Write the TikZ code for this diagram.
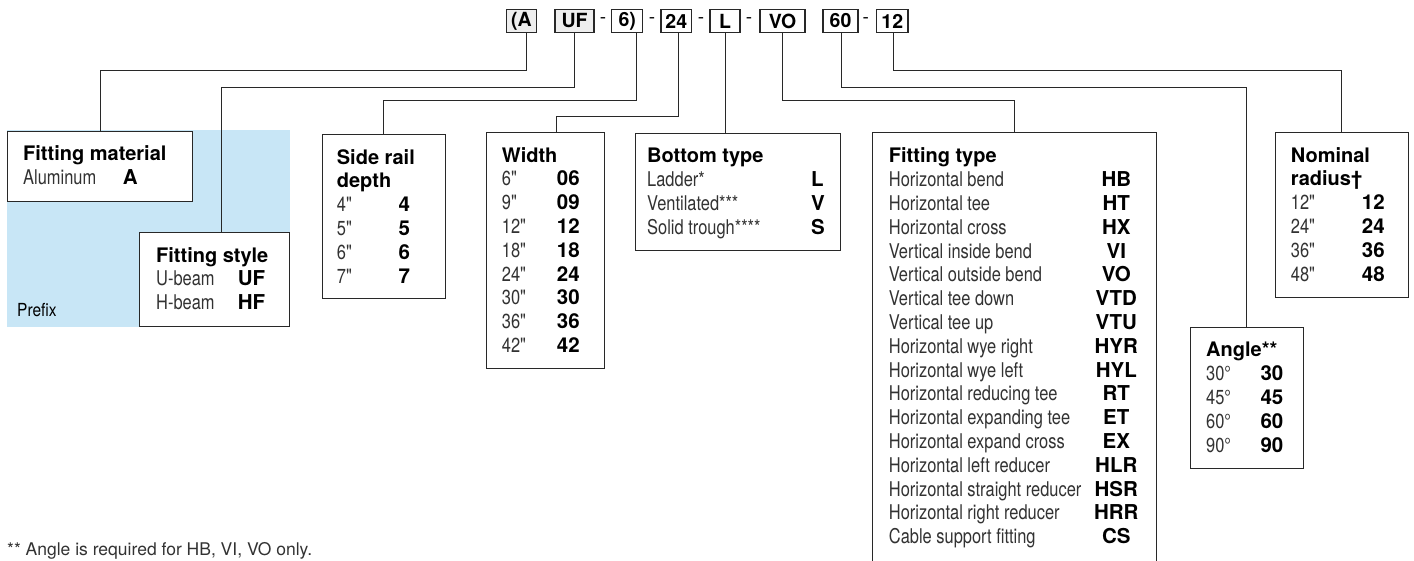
\documentclass[tikz,border=0pt]{standalone}
\usepackage{fontspec}
\usepackage{array}
\setmainfont{TeX Gyre Heros}
\newfontfamily\condfont[FakeStretch=0.81]{TeX Gyre Heros}
\newfontfamily\prefixfont[FakeStretch=0.86]{TeX Gyre Heros}
\definecolor{linegray}{RGB}{40,40,40}
\definecolor{itemgray}{RGB}{50,50,50}
\definecolor{prefixblue}{RGB}{200,230,246}
\definecolor{shadegray}{RGB}{238,238,238}
\newcommand{\keysize}{\fontsize{20.3}{23.8}\selectfont}
\newcommand{\codesize}{\fontsize{20.5}{23.8}\selectfont}
\newcolumntype{I}[1]{>{\condfont\color{itemgray}}w{l}{#1}}
\newcolumntype{K}{>{\codesize\bfseries}l}
\newcolumntype{C}[1]{>{\codesize\bfseries}w{c}{#1}}
\newcommand{\keyhead}[1]{\multicolumn{2}{@{}l@{}}{\fontsize{20}{23.8}\selectfont\bfseries #1}}

\tikzset{
  link/.style={draw=linegray, line width=1.1pt},
  codebox/.style={draw=linegray, line width=1.1pt, minimum height=23.5pt, inner sep=0pt,
    font=\fontsize{19.5}{21}\selectfont\bfseries},
  dashmark/.style={inner sep=0pt, font=\fontsize{19}{21}\selectfont},
  keybox/.style={draw=linegray, line width=1.1pt, fill=white, anchor=north west, inner sep=0pt},
  keytext/.style={anchor=north west, inner sep=0pt, font=\keysize},
}

\begin{document}
\begin{tikzpicture}[x=1pt, y=-1pt]
\useasboundingbox (0,0) rectangle (1414,561);

% prefix area
\fill[prefixblue] (7,130) rectangle (290,327);
\node[anchor=base west, inner sep=0pt, font=\prefixfont\fontsize{18}{20}\selectfont] (prefixlabel) at (17,316.7) {Prefix};

% catalog number
\node[codebox, fill=shadegray, minimum width=30.7pt] (codeA) at (521.4,21) {(A};
\node[codebox, fill=shadegray, minimum width=39pt] (codeUF) at (574.5,21) {UF};
\node[dashmark] (d1) at (603,21) {-};
\node[codebox, minimum width=31pt] (code6) at (627.2,21) {6)};
\node[dashmark] (d2) at (652,21) {-};
\node[codebox, minimum width=30.7pt] (code24) at (676.3,21) {24};
\node[dashmark] (d3) at (701,21) {-};
\node[codebox, minimum width=30pt] (codeL) at (725,21) {L};
\node[dashmark] (d4) at (749,21) {-};
\node[codebox, minimum width=45pt] (codeVO) at (782.5,21) {VO};
\node[codebox, minimum width=35pt] (code60) at (840.5,21) {60};
\node[dashmark] (d5) at (865.7,21) {-};
\node[codebox, minimum width=31.3pt] (code12) at (892.3,21) {12};

% key boxes
\node[keybox, minimum width=185pt, minimum height=70pt] (matbox) at (7,130.7) {};
\node[keytext] (mattext) at ([shift={(16,13.3)}]matbox.north west) {%
  \begin{tabular}{@{}I{99.7pt}@{}K@{}}
  \keyhead{Fitting material}\\
  Aluminum & A
  \end{tabular}};

\node[keybox, minimum width=149.7pt, minimum height=93.7pt] (stylebox) at (139,232) {};
\node[keytext] (styletext) at ([shift={(17,13.3)}]stylebox.north west) {%
  \begin{tabular}{@{}I{81.7pt}@{}K@{}}
  \keyhead{Fitting style}\\
  U-beam & UF\\
  H-beam & HF
  \end{tabular}};

\node[keybox, minimum width=123.3pt, minimum height=163.7pt] (railbox) at (321.7,134) {};
\node[keytext] (railtext) at ([shift={(15,13.3)}]railbox.north west) {%
  \begin{tabular}{@{}I{61.6pt}@{}K@{}}
  \keyhead{Side rail}\\
  \keyhead{depth}\\
  4" & 4\\
  5" & 5\\
  6" & 6\\
  7" & 7
  \end{tabular}};

\node[keybox, minimum width=118.3pt, minimum height=236.3pt] (widthbox) at (485.7,132) {};
\node[keytext] (widthtext) at ([shift={(16,13.3)}]widthbox.north west) {%
  \begin{tabular}{@{}I{55pt}@{}K@{}}
  \keyhead{Width}\\
  6" & 06\\
  9" & 09\\
  12" & 12\\
  18" & 18\\
  24" & 24\\
  30" & 30\\
  36" & 36\\
  42" & 42
  \end{tabular}};

\node[keybox, minimum width=205pt, minimum height=117.3pt] (bottombox) at (635,132.7) {};
\node[keytext] (bottomtext) at ([shift={(12,13.3)}]bottombox.north west) {%
  \begin{tabular}{@{}I{164pt}@{}K@{}}
  \keyhead{Bottom type}\\
  Ladder* & L\\
  Ventilated*** & V\\
  Solid trough**** & S
  \end{tabular}};

% fitting type box runs off the bottom edge
\node[keybox, draw=none, minimum width=282.3pt, minimum height=440pt] (typebox) at (872.7,132.7) {};
\draw[link] (typebox.south west) -- (typebox.north west) -- (typebox.north east) -- (typebox.south east);
\node[keytext] (typetext) at ([shift={(16,13.3)}]typebox.north west) {%
  \begin{tabular}{@{}I{202.4pt}@{}C{50pt}@{}}
  \keyhead{Fitting type}\\
  Horizontal bend & HB\\
  Horizontal tee & HT\\
  Horizontal cross & HX\\
  Vertical inside bend & VI\\
  Vertical outside bend & VO\\
  Vertical tee down & VTD\\
  Vertical tee up & VTU\\
  Horizontal wye right & HYR\\
  Horizontal wye left & HYL\\
  Horizontal reducing tee & RT\\
  Horizontal expanding tee & ET\\
  Horizontal expand cross & EX\\
  Horizontal left reducer & HLR\\
  Horizontal straight reducer & HSR\\
  Horizontal right reducer & HRR\\
  Cable support fitting & CS
  \end{tabular}};

\node[keybox, minimum width=112.7pt, minimum height=141.6pt] (anglebox) at (1190,326.7) {};
\node[keytext] (angletext) at ([shift={(16,13.3)}]anglebox.north west) {%
  \begin{tabular}{@{}I{54.3pt}@{}K@{}}
  \keyhead{Angle**}\\
  30° & 30\\
  45° & 45\\
  60° & 60\\
  90° & 90
  \end{tabular}};

\node[keybox, minimum width=133.3pt, minimum height=164.7pt] (radiusbox) at (1274.7,132) {};
\node[keytext] (radiustext) at ([shift={(16,13.3)}]radiusbox.north west) {%
  \begin{tabular}{@{}I{71pt}@{}K@{}}
  \keyhead{Nominal}\\
  \keyhead{radius†}\\
  12" & 12\\
  24" & 24\\
  36" & 36\\
  48" & 48
  \end{tabular}};

% leader lines
\draw[link] ([xshift=5pt]codeA.south) -- ++(0,37) -| (matbox.north);
\draw[link] (codeUF.south) -- ++(0,54.5) -| ([xshift=7pt]stylebox.north);
\draw[link] ([xshift=9pt]code6.south) -- ++(0,67.5) -| (railbox.north);
\draw[link] ([xshift=2pt]code24.south) -- ++(0,83.5) -| ([xshift=11pt]widthbox.north);
\draw[link] ([xshift=0.5pt]codeL.south) -- ([xshift=0.5pt]codeL.south |- bottombox.north);
\draw[link] (codeVO.south) -- ++(0,67.5) -| (typebox.north);
\draw[link] ([xshift=1pt]code60.south) -- ++(0,54.5) -| (anglebox.north);
\draw[link] ([xshift=1.5pt]code12.south) -- ++(0,37) -| (radiusbox.north);

\node[anchor=base west, inner sep=0pt, text=itemgray, font=\fontsize{17.5}{20}\selectfont] (footnote) at (7,555) {** Angle is required for HB, VI, VO only.};
\end{tikzpicture}
\end{document}
